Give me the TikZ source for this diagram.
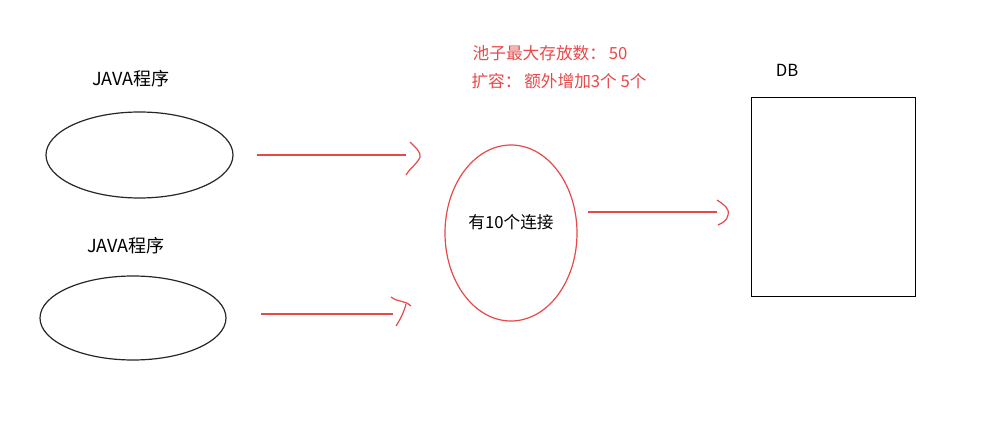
\documentclass[tikz,border=0pt]{standalone}
\usepackage{fontspec}
\setmainfont{Noto Sans CJK SC}
\usetikzlibrary{shapes.geometric}
\definecolor{penred}{RGB}{232,72,72}
\begin{document}
\begin{tikzpicture}[x=0.75pt,y=-0.75pt,
  blk/.style={draw=black!85,line width=0.9pt},
  redl/.style={draw=penred,line width=0.9pt},
  ell/.style={ellipse,inner sep=0pt},
  lbl/.style={font=\fontsize{12.5pt}{14pt}\selectfont,inner sep=0pt},
  jlbl/.style={font=\fontsize{13.5pt}{15pt}\selectfont,inner sep=0pt},
  rlbl/.style={lbl,text=penred}]
\useasboundingbox (0,0) rectangle (999,431);
% java ellipses
\node[blk,ell,minimum width=140.25pt,minimum height=64.5pt] (j1) at (139.5,155) {};
\node[blk,ell,minimum width=139.5pt,minimum height=63pt] (j2) at (133,318) {};
\node[jlbl] (t1) at (131,79) {JAVA程序};
\node[jlbl] (t2) at (126,246) {JAVA程序};
% pool
\node[redl,ell,minimum width=99pt,minimum height=132pt] (pool) at (511,233) {};
\node[lbl] (poolt) at (511,222) {有10个连接};
\node[rlbl] (r1) at (550,53) {池子最大存放数：\,50};
\node[rlbl] (r2) at (559,81) {扩容：\,额外增加3个 5个};
% DB
\node[draw=black,line width=0.9pt,minimum width=123pt,minimum height=149.25pt,inner sep=0pt,anchor=north west] (db) at (751,97) {};
\node[lbl] (dbl) at (787,70) {DB};
% arrows
\coordinate (a1s) at (257,155); \coordinate (a1e) at (406,155);
\draw[redl] (a1s) -- (a1e);
\draw[redl] (410,142) .. controls (416,148) and (421,152) .. (420,157) .. controls (418,163) and (410,168) .. (406,175);
\coordinate (a2s) at (261,314); \coordinate (a2e) at (393,314);
\draw[redl] (a2s) -- (a2e);
\draw[redl] (391,297) .. controls (396,302) and (405,300) .. (411,306);
\draw[redl] (406,304) .. controls (404,312) and (400,320) .. (396,326);
\coordinate (a3s) at (588,212); \coordinate (a3e) at (717,212);
\draw[redl] (a3s) -- (a3e);
\draw[redl] (717,200) .. controls (723,204) and (730,208) .. (728,215) .. controls (727,221) and (722,223) .. (718,225);
\end{tikzpicture}
\end{document}
